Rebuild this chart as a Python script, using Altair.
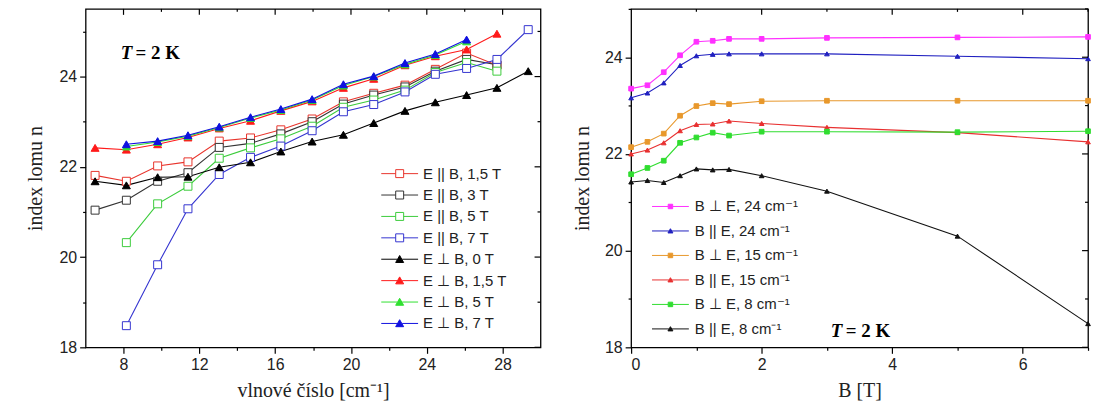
import altair as alt
import pandas as pd

# ---------------- left panel: index vs. wavenumber at T = 2 K ----------------
wavenumber = [6.5, 8.15, 9.8, 11.4, 13.05, 14.7, 16.3, 17.95, 19.6, 21.2,
              22.85, 24.45, 26.1, 27.7, 29.35]

n_par_15 = [21.81, 21.68, 22.02, 22.11, 22.57, 22.64, 22.82, 23.06, 23.44, 23.63, 23.81, 24.16, 24.52, 24.25]
n_par_3 = [21.04, 21.26, 21.68, 21.87, 22.43, 22.52, 22.73, 23.00, 23.39, 23.59, 23.77, 24.12, 24.38, 24.26]
n_par_5 = [20.32, 21.18, 21.57, 22.19, 22.42, 22.62, 22.90, 23.32, 23.48, 23.70, 24.09, 24.31, 24.12]
n_par_7 = [18.48, 19.83, 21.07, 21.83, 22.21, 22.46, 22.80, 23.22, 23.38, 23.66, 24.05, 24.18, 24.38, 25.04]
n_perp_0 = [21.68, 21.59, 21.77, 21.78, 21.99, 22.10, 22.34, 22.56, 22.71, 22.97, 23.24, 23.43, 23.59, 23.75, 24.12]
n_perp_15 = [22.42, 22.38, 22.50, 22.65, 22.85, 23.02, 23.24, 23.45, 23.75, 23.95, 24.25, 24.45, 24.60, 24.95]
n_perp_5 = [22.45, 22.55, 22.68, 22.87, 23.08, 23.26, 23.48, 23.80, 24.00, 24.27, 24.48, 24.78]
n_perp_7 = [22.50, 22.57, 22.70, 22.89, 23.10, 23.28, 23.50, 23.83, 24.01, 24.30, 24.50, 24.82]

# label, values, index of first wavenumber
left_series = [
    ("E || B, 1,5 T", n_par_15, 0),
    ("E || B, 3 T", n_par_3, 0),
    ("E || B, 5 T", n_par_5, 1),
    ("E || B, 7 T", n_par_7, 1),
    ("E ⊥ B, 0 T", n_perp_0, 0),
    ("E ⊥ B, 1,5 T", n_perp_15, 0),
    ("E ⊥ B, 5 T", n_perp_5, 1),
    ("E ⊥ B, 7 T", n_perp_7, 1),
]

# ---------------- right panel: index vs. magnetic field ----------------
field_T = [0, 0.25, 0.5, 0.75, 1, 1.25, 1.5, 2, 3, 5, 7]

n_perp_24 = [23.35, 23.42, 23.69, 24.04, 24.32, 24.34, 24.38, 24.38, 24.40, 24.41, 24.42]
n_par_24 = [23.16, 23.26, 23.47, 23.83, 24.03, 24.06, 24.07, 24.07, 24.07, 24.02, 23.97]
n_perp_15cm = [22.14, 22.25, 22.42, 22.79, 22.99, 23.05, 23.03, 23.09, 23.10, 23.10, 23.10]
n_par_15cm = [22.00, 22.08, 22.23, 22.48, 22.61, 22.62, 22.68, 22.63, 22.55, 22.44, 22.25]
n_perp_8 = [21.58, 21.71, 21.86, 22.23, 22.34, 22.44, 22.38, 22.46, 22.46, 22.45, 22.47]
n_par_8 = [21.42, 21.45, 21.41, 21.55, 21.69, 21.67, 21.68, 21.55, 21.23, 20.30, 18.49]

right_series = [
    ("B ⊥ E, 24 cm⁻¹", n_perp_24),
    ("B || E, 24 cm⁻¹", n_par_24),
    ("B ⊥ E, 15 cm⁻¹", n_perp_15cm),
    ("B || E, 15 cm⁻¹", n_par_15cm),
    ("B ⊥ E, 8 cm⁻¹", n_perp_8),
    ("B || E, 8 cm⁻¹", n_par_8),
]

# ---------------- styles ----------------
left_colors = ["#e8342c", "#333333", "#3ccc3c", "#3434d0",
               "#000000", "#ff1a1a", "#30e030", "#1010e0"]
left_fills = ["white", "white", "white", "white",
              "#000000", "#ff1a1a", "#30e030", "#1010e0"]
left_shapes = ["square"] * 4 + ["triangle-up"] * 4
left_sizes = [64, 64, 64, 64, 85, 85, 175, 110]

right_colors = ["#ff30ff", "#2020c0", "#e8982c", "#e83030", "#30dd30", "#111111"]
right_shapes = ["square", "triangle-up"] * 3

# legend glyphs: line - marker - line (unit = half of sqrt(symbol size))
SQ_BIG = "M-3.7,0H-0.8M0.8,0H3.7M-0.8,-0.8H0.8V0.8H-0.8Z"
TRI_BIG = "M-3.7,0H-0.5M0.5,0H3.7M-0.8,0.65H0.8L0,-0.75Z"
SQ_SMALL = "M-3.7,0H-0.45M0.45,0H3.7M-0.45,-0.45H0.45V0.45H-0.45Z"
TRI_SMALL = "M-3.7,0H-0.3M0.3,0H3.7M-0.5,0.4H0.5L0,-0.45Z"
left_glyphs = [SQ_BIG] * 4 + [TRI_BIG] * 4
right_glyphs = [SQ_SMALL, TRI_SMALL] * 3

FONT_SANS = "Liberation Sans"
FONT_SERIF = "Liberation Serif"

rows = []
for k, (lab, vals, start) in enumerate(left_series):
    for i, v in enumerate(vals):
        rows.append({"s": lab, "x": wavenumber[start + i], "n": v, "k": k})
left_df = pd.DataFrame(rows)

rows = []
for k, (lab, vals) in enumerate(right_series):
    for i, v in enumerate(vals):
        rows.append({"s": lab, "x": field_T[i], "n": v, "k": k})
right_df = pd.DataFrame(rows)


def legend(x, y, row_pad, label_offset):
    return alt.Legend(
        title=None, orient="none", legendX=x, legendY=y, padding=0,
        labelFont=FONT_SANS, labelFontSize=15, labelColor="#222",
        labelOffset=label_offset, rowPadding=row_pad, symbolStrokeWidth=1,
        symbolSize=100, symbolOpacity=1,
    )


def minor_major_axis(values, major_mod, title, title_pad, label_pad=3):
    test = f"datum.value % {major_mod} === 0"
    return alt.Axis(
        values=values, title=title, titlePadding=title_pad,
        labelExpr=f"{test} ? datum.label : ''", labelPadding=label_pad,
        tickSize={"condition": {"test": test, "value": 6}, "value": 3},
    )


def panel(df, xs, ys, x_axis, y_axis, dom, colors, fills, shapes, sizes, glyphs,
          leg, t_pos, ticks, w, h):
    # every layer carries the same axis definition so they merge into one
    X = lambda f: alt.X(f, scale=xs, axis=x_axis)
    Y = lambda f: alt.Y(f, scale=ys, axis=y_axis)

    lines = alt.Chart(df).mark_line(strokeWidth=1.1).encode(
        x=X("x:Q"), y=Y("n:Q"),
        stroke=alt.Stroke("s:N", scale=alt.Scale(domain=dom, range=colors), legend=None),
        detail="s:N",
    )
    pts = alt.Chart(df).mark_point(filled=True, opacity=1, strokeWidth=1).encode(
        x=X("x:Q"), y=Y("n:Q"),
        stroke=alt.Stroke("s:N", scale=alt.Scale(domain=dom, range=colors), legend=None),
        fill=alt.Fill("s:N", scale=alt.Scale(domain=dom, range=fills), legend=None),
        shape=alt.Shape("s:N", scale=alt.Scale(domain=dom, range=shapes), legend=None),
        size=alt.Size("s:N", scale=alt.Scale(domain=dom, range=sizes), legend=None),
        order=alt.Order("k:Q"),
    )
    # legend-only layer (no rows drawn) with line-marker-line glyphs
    key = alt.Chart(df).transform_filter("datum.k < 0").mark_point(filled=True, size=100).encode(
        x=X("x:Q"), y=Y("n:Q"),
        stroke=alt.Stroke("s:N", scale=alt.Scale(domain=dom, range=colors), legend=leg),
        fill=alt.Fill("s:N", scale=alt.Scale(domain=dom, range=fills), legend=leg),
        shape=alt.Shape("s:N", scale=alt.Scale(domain=dom, range=glyphs), legend=leg),
    )
    # "T = 2 K" label
    tdf = pd.DataFrame({"x": [t_pos[0]], "n": [t_pos[1]]})
    t_it = alt.Chart(tdf).mark_text(
        text="T", font=FONT_SERIF, fontSize=19, fontWeight="bold",
        fontStyle="italic", align="left", baseline="alphabetic", color="black",
    ).encode(x=X("x:Q"), y=Y("n:Q"))
    t_rest = alt.Chart(tdf).mark_text(
        text="= 2 K", font=FONT_SERIF, fontSize=19, fontWeight="bold",
        align="left", baseline="alphabetic", dx=15, color="black",
    ).encode(x=X("x:Q"), y=Y("n:Q"))

    # mirrored inward ticks on the top and right frame edges
    tick_layers = []
    for values, size, orient in ticks:
        tdf2 = pd.DataFrame({"v": values})
        base = alt.Chart(tdf2).mark_rule(color="black", strokeWidth=1.2)
        if orient == "top":
            tick_layers.append(base.encode(x=X("v:Q"), y=alt.value(0), y2=alt.value(size)))
        else:
            tick_layers.append(base.encode(y=Y("v:Q"), x=alt.value(w), x2=alt.value(w - size)))

    return alt.layer(lines, pts, key, t_it, t_rest, *tick_layers).resolve_scale(
        stroke="independent", fill="independent", shape="independent", size="independent",
    ).properties(width=w, height=h)


# ---------------- left chart ----------------
LW, LH = 457, 340
lx = alt.Scale(domain=[6, 30], nice=False, zero=False)
ly = alt.Scale(domain=[18, 25.5], nice=False, zero=False)
ldom = [s[0] for s in left_series]

left = panel(
    left_df, lx, ly,
    minor_major_axis(list(range(8, 30, 2)), 4, "vlnové číslo [cm⁻¹]", 8),
    minor_major_axis(list(range(18, 26)), 2, "index lomu n", 14),
    ldom, left_colors, left_fills, left_shapes, left_sizes, left_glyphs,
    legend(308, 158, 5.5, 16),
    (7.85, 24.40),
    [([8, 12, 16, 20, 24, 28], 6, "top"), ([10, 14, 18, 22, 26], 3, "top"),
     ([18, 20, 22, 24], 6, "right"), ([19, 21, 23, 25], 3, "right")],
    LW, LH,
)

# ---------------- right chart ----------------
RW, RH = 459, 340
rx = alt.Scale(domain=[0, 7], nice=False, zero=False)
ry = alt.Scale(domain=[18, 25], nice=False, zero=False)
rdom = [s[0] for s in right_series]

right = panel(
    right_df, rx, ry,
    minor_major_axis(list(range(0, 8)), 2, "B [T]", 8),
    minor_major_axis(list(range(18, 26)), 2, "index lomu n", 12),
    rdom, right_colors, right_colors, right_shapes, [22] * 6, right_glyphs,
    legend(32, 191, 8.6, 17),
    (3.06, 18.21),
    [([2, 4, 6], 6, "top"), ([1, 3, 5, 7], 3, "top"),
     ([18, 20, 22, 24], 6, "right"), ([19, 21, 23, 25], 3, "right")],
    RW, RH,
)

chart = alt.hconcat(left, right, spacing=29).properties(
    padding={"left": 24, "top": 6, "right": 0, "bottom": 0},
).configure_view(
    stroke="black", strokeWidth=1.3,
).configure_axis(
    domain=False, grid=False, tickColor="black", tickWidth=1.2,
    labelFont=FONT_SANS, labelFontSize=16, labelColor="#222",
    titleFont=FONT_SERIF, titleFontSize=20, titleFontWeight="normal", titleColor="#222",
).configure_legend(
    strokeColor=None,
)

chart.save("out.html", embed_options={"renderer": "svg", "actions": False})
